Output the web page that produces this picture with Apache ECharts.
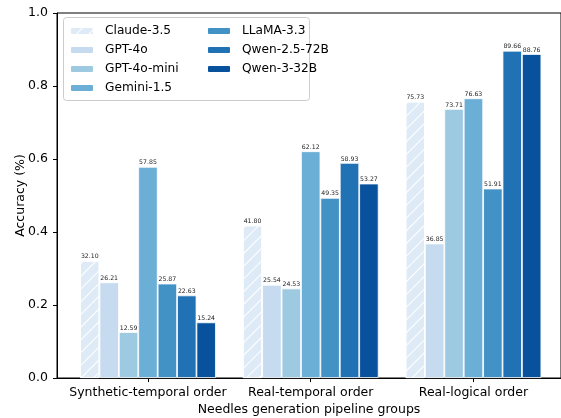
<!DOCTYPE html>
<html>
<head>
<meta charset="utf-8">
<script src="https://cdn.jsdelivr.net/npm/echarts@6/dist/echarts.min.js"></script>
<style>html,body{margin:0;padding:0;background:#fff}#c{width:561px;height:418px}</style>
</head>
<body>
<div id="c"></div>
<script>
const categories = ['Synthetic-temporal order', 'Real-temporal order', 'Real-logical order'];
const models = ['Claude-3.5', 'GPT-4o', 'GPT-4o-mini', 'Gemini-1.5', 'LLaMA-3.3', 'Qwen-2.5-72B', 'Qwen-3-32B'];
const claude = [32.10, 41.80, 75.73];
const gpt4o = [26.21, 25.54, 36.85];
const gpt4oMini = [12.59, 24.53, 73.71];
const gemini = [57.85, 62.12, 76.63];
const llama = [25.87, 49.35, 51.91];
const qwen25 = [22.63, 58.93, 89.66];
const qwen3 = [15.24, 53.27, 88.76];
const yTicks = [0, 0.2, 0.4, 0.6, 0.8, 1.0];

const seriesValues = [claude, gpt4o, gpt4oMini, gemini, llama, qwen25, qwen3];
const colors = ['#deebf7', '#c6dbef', '#9ecae1', '#6baed6', '#4292c6', '#2171b5', '#08519c'];
const FONT = 'DejaVu Sans';

const chart = echarts.init(document.getElementById('c'), null, {renderer: 'canvas'});

const series = models.map((name, i) => {
  const itemStyle = {color: colors[i], borderColor: '#fff', borderWidth: 0.8};
  if (i === 0) {
    itemStyle.decal = {
      symbol: 'rect', color: '#ffffff', backgroundColor: null,
      dashArrayX: [[1, 0]], dashArrayY: [1, 7.5], rotation: -Math.PI / 4, symbolSize: 1
    };
  }
  return {
    name, type: 'bar', barWidth: 19.4, barGap: '0%',
    data: seriesValues[i].map((v, k) => [k, v / 100]),
    itemStyle,
    label: {
      show: true, position: 'top', distance: 1, fontSize: 6.2, fontFamily: FONT, color: '#222',
      formatter: p => (p.value[1] * 100).toFixed(2)
    },
    emphasis: {disabled: true}
  };
});

const legendCommon = {
  orient: 'vertical', itemWidth: 24, itemHeight: 8, itemGap: 7, padding: 0, z: 20,
  textStyle: {fontSize: 12.2, fontFamily: FONT, color: '#000', padding: [0, 0, 0, 6]},
  selectedMode: false
};

chart.setOption({
  animation: false,
  backgroundColor: '#fff',
  aria: {enabled: false},
  grid: {left: 57, right: 0, top: 13, bottom: 40, outerBoundsMode: 'none', containLabel: false,
         show: true, borderColor: '#000', borderWidth: 1, backgroundColor: 'transparent'},
  legend: [
    Object.assign({}, legendCommon, {data: models.slice(0, 4), left: 69, top: 25}),
    Object.assign({}, legendCommon, {data: models.slice(4), left: 206, top: 25})
  ],
  graphic: {
    elements: [{
      type: 'rect', left: 63, top: 17, z: 1, silent: true,
      shape: {width: 246, height: 83, r: 3},
      style: {fill: '#ffffff', stroke: '#cccccc', lineWidth: 1}
    }]
  },
  xAxis: {
    type: 'value', min: -0.559, max: 2.538,
    name: 'Needles generation pipeline groups', nameLocation: 'middle', nameGap: 25, nameMoveOverlap: false,
    nameTextStyle: {fontSize: 12.5, fontFamily: FONT, color: '#000'},
    axisLine: {show: true, onZero: false, lineStyle: {color: '#000', width: 1}},
    axisTick: {show: true, length: 4, lineStyle: {color: '#000'}, customValues: [0, 1, 2]},
    axisLabel: {
      fontSize: 12.5, fontFamily: FONT, color: '#000', margin: 8,
      customValues: [0, 1, 2], formatter: v => categories[Math.round(v)]
    },
    splitLine: {show: false}
  },
  yAxis: {
    type: 'value', min: 0, max: 1, interval: 0.2,
    name: 'Accuracy (%)', nameLocation: 'middle', nameGap: 30, nameMoveOverlap: false,
    nameTextStyle: {fontSize: 12.5, fontFamily: FONT, color: '#000'},
    axisLine: {show: true, onZero: false, lineStyle: {color: '#000', width: 1}},
    axisTick: {show: true, length: 4, lineStyle: {color: '#000'}},
    axisLabel: {fontSize: 12.5, fontFamily: FONT, color: '#000', margin: 9, formatter: v => v.toFixed(1)},
    splitLine: {show: false}
  },
  series
});
</script>
</body>
</html>
